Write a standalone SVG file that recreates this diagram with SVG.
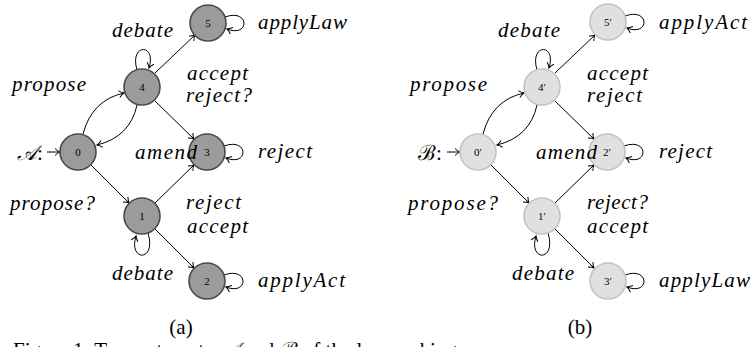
<svg xmlns="http://www.w3.org/2000/svg" width="755" height="347" viewBox="0 0 755 347">
<defs>
<marker id="ah" markerUnits="userSpaceOnUse" markerWidth="12" markerHeight="12" refX="0" refY="0" viewBox="-7 -6 9 12" orient="auto" overflow="visible">
<path d="M-5,-3.5 Q-2,-0.6 0,0 Q-2,0.6 -5,3.5" fill="none" stroke="#000" stroke-width="1"/>
</marker>
</defs>
<style>
.na{fill:#9b9b9b;stroke:#4a4a4a;stroke-width:1.6}
.nb{fill:#e0e0e0;stroke:#c2c2c2;stroke-width:1.6}
.num{font-family:"Liberation Serif",serif;font-size:11px;text-anchor:middle;fill:#000}
.lbl{font-family:"Liberation Serif",serif;font-style:italic;font-size:21px;fill:#000}
.rm{font-family:"Liberation Serif",serif;font-size:21px;fill:#000}
.e{fill:none;stroke:#000;stroke-width:1;marker-end:url(#ah)}
</style>
<rect width="755" height="347" fill="#fff"/>

<g id="connectors">
<path class="e" d="M47,152 L60,152"/>
<path class="e" d="M83,134 Q92,100 124,93"/>
<path class="e" d="M137,105 Q130,137 97,145"/>
<path class="e" d="M155,73 L195,35"/>
<path class="e" d="M155,101 L194,139"/>
<path class="e" d="M91,165 L129,203"/>
<path class="e" d="M155,203 L194,165"/>
<path class="e" d="M155,229 L194,268"/>
<path class="e" d="M137,70 C129,43 157,43 149,68"/>
<path class="e" d="M148,233 C157,262 128,262 136,236"/>
<path class="e" d="M225,17 C250,8 250,38 227,29"/>
<path class="e" d="M224,146 C249,137 249,167 226,158"/>
<path class="e" d="M224,275 C249,266 249,296 226,287"/>
<path class="e" d="M447,152 L460,152"/>
<path class="e" d="M483,134 Q492,100 524,93"/>
<path class="e" d="M537,105 Q530,137 497,145"/>
<path class="e" d="M555,73 L595,35"/>
<path class="e" d="M555,101 L594,139"/>
<path class="e" d="M491,165 L529,203"/>
<path class="e" d="M555,203 L594,165"/>
<path class="e" d="M555,229 L594,268"/>
<path class="e" d="M537,70 C529,43 557,43 549,68"/>
<path class="e" d="M548,233 C557,262 528,262 536,236"/>
<path class="e" d="M625,16 C650,7 650,37 627,28"/>
<path class="e" d="M624,146 C649,137 649,167 626,158"/>
<path class="e" d="M625,275 C650,266 650,296 627,287"/>
</g>

<g id="nodeA0"><circle class="na" cx="78" cy="152" r="18"/><text class="num" x="78" y="156">0</text></g>
<g id="nodeA4"><circle class="na" cx="142" cy="87" r="18"/><text class="num" x="142" y="91">4</text></g>
<g id="nodeA5"><circle class="na" cx="208" cy="23" r="18"/><text class="num" x="208" y="27">5</text></g>
<g id="nodeA3"><circle class="na" cx="207" cy="152" r="18"/><text class="num" x="207" y="156">3</text></g>
<g id="nodeA1"><circle class="na" cx="142" cy="216" r="18"/><text class="num" x="142" y="220">1</text></g>
<g id="nodeA2"><circle class="na" cx="207" cy="281" r="18"/><text class="num" x="207" y="285">2</text></g>

<g id="nodeB0"><circle class="nb" cx="478" cy="152" r="18"/><text class="num" x="478" y="156">0′</text></g>
<g id="nodeB4"><circle class="nb" cx="542" cy="87" r="18"/><text class="num" x="542" y="91">4′</text></g>
<g id="nodeB5"><circle class="nb" cx="608" cy="22" r="18"/><text class="num" x="608" y="26">5′</text></g>
<g id="nodeB2"><circle class="nb" cx="607" cy="152" r="18"/><text class="num" x="607" y="156">2′</text></g>
<g id="nodeB1"><circle class="nb" cx="542" cy="216" r="18"/><text class="num" x="542" y="220">1′</text></g>
<g id="nodeB3"><circle class="nb" cx="608" cy="281" r="18"/><text class="num" x="608" y="285">3′</text></g>

<g id="labelsA">
<text class="lbl" x="112" y="37" textLength="61">debate</text>
<text class="lbl" x="12" y="91" textLength="74">propose</text>
<text class="lbl" x="187" y="80" textLength="61">accept</text>
<text class="lbl" x="186" y="102" textLength="66">reject?</text>
<text class="lbl" x="135" y="159" textLength="62">amend</text>
<text class="lbl" x="258" y="29" textLength="89">applyLaw</text>
<text class="lbl" x="258" y="158" textLength="54">reject</text>
<text class="lbl" x="10" y="210" textLength="85">propose?</text>
<text class="lbl" x="186" y="209" textLength="55">reject</text>
<text class="lbl" x="187" y="233" textLength="61">accept</text>
<text class="lbl" x="112" y="280" textLength="61">debate</text>
<text class="lbl" x="258" y="287" textLength="87">applyAct</text>
<text class="rm" x="17" y="160"><tspan font-family="'DejaVu Serif','Noto Sans',serif" font-style="italic">𝒜</tspan>:</text>
<text class="rm" x="181" y="334" text-anchor="middle">(a)</text>
</g>

<g id="labelsB">
<text class="lbl" x="498" y="37" textLength="62">debate</text>
<text class="lbl" x="410" y="91" textLength="77">propose</text>
<text class="lbl" x="587" y="80" textLength="61">accept</text>
<text class="lbl" x="587" y="102" textLength="55">reject</text>
<text class="lbl" x="536" y="159" textLength="61">amend</text>
<text class="lbl" x="659" y="29" textLength="88">applyAct</text>
<text class="lbl" x="659" y="158" textLength="53">reject</text>
<text class="lbl" x="408" y="210" textLength="90">propose?</text>
<text class="lbl" x="587" y="209" textLength="61">reject?</text>
<text class="lbl" x="587" y="233" textLength="61">accept</text>
<text class="lbl" x="512" y="280" textLength="62">debate</text>
<text class="lbl" x="659" y="287" textLength="91">applyLaw</text>
<text class="rm" x="418" y="160">ℬ:</text>
<text class="rm" x="580" y="334" text-anchor="middle">(b)</text>
</g>

<text class="rm" x="13" y="357">Figure 1: Two automata <tspan font-style="italic">𝒜</tspan> and ℬ of the law-making</text>
</svg>
